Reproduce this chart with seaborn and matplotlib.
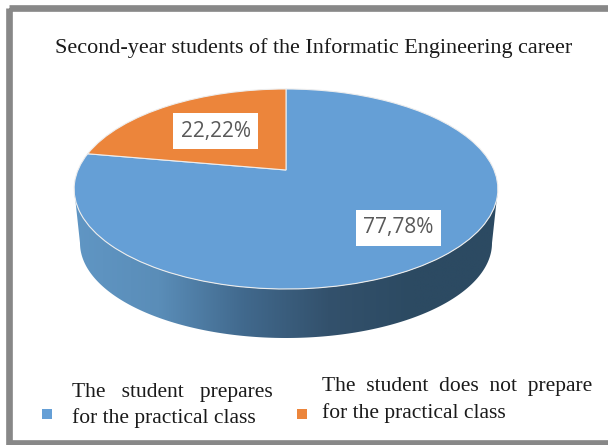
import numpy as np
import seaborn as sns
import matplotlib
matplotlib.use('Agg')
import matplotlib.pyplot as plt
from matplotlib.colors import LinearSegmentedColormap
from matplotlib.patches import Polygon, Rectangle
from matplotlib.transforms import Transform

title = 'Second-year students of the Informatic Engineering career'
categories = ['The student prepares for the practical class',
              'The student does not prepare for the practical class']
shares = [77.78, 22.22]
pie_colors = ['#659FD6', '#EC853B']

sns.set_theme(style='white')
serif = 'Liberation Serif'
label_font = 'Open Sans'


# tilted view of the unit disc, gives pixel positions
class TiltView(Transform):
    input_dims = 2
    output_dims = 2

    def transform_non_affine(self, values):
        values = np.asarray(values, dtype=float)
        d = 1 + 0.19 * values[:, 1]
        return np.column_stack([286 + 208 * values[:, 0] / d,
                                170 - 96.4 * values[:, 1] / d])


fig = plt.figure(figsize=(6.08, 4.45), dpi=100)
ax = fig.add_axes([0, 0, 1, 1])

tilt = TiltView()
wedges, _, autotexts = ax.pie(shares, colors=sns.color_palette(pie_colors),
                              startangle=90, counterclock=False, frame=True,
                              autopct=lambda p: f'{p:.2f}'.replace('.', ',') + '%',
                              wedgeprops={'edgecolor': '#EDEDED', 'linewidth': 0.8})
ax.set_aspect('auto')
ax.axis('off')
for w in wedges:
    w.set_transform(tilt + ax.transData)
    w.set_zorder(3)

# side wall of the pie
t = np.linspace(np.pi + 0.19, 2 * np.pi - 0.19, 200)
rim = tilt.transform_non_affine(np.column_stack([np.cos(t), np.sin(t)]))
s = np.linspace(0, np.pi, 200)
lower = np.column_stack([286 + 206 * np.cos(s), 243 + 95 * np.sin(s)])
wall = Polygon(np.vstack([rim, lower]), closed=True, transform=ax.transData,
               facecolor='none', edgecolor='none')
ax.add_patch(wall)
wall_cmap = LinearSegmentedColormap.from_list(
    'wall', ['#6096C4', '#5A8DB8', '#41698D', '#33516C', '#2C4A62', '#2C4A62'])
grad = ax.imshow(np.linspace(0, 1, 256)[None, :], cmap=wall_cmap, aspect='auto',
                 extent=(74, 498, 340, 180), interpolation='bilinear', zorder=2)
grad.set_clip_path(wall)
ax.set_xlim(0, 608)
ax.set_ylim(445, 0)

# data labels in white boxes
for txt, pos in zip(autotexts, [(398.5, 228), (215.5, 131)]):
    txt.set_position(pos)
    txt.set(family=label_font, fontsize=15, color='#595959', ha='center', va='center',
            zorder=5)
    txt.set_bbox({'facecolor': 'white', 'edgecolor': 'none', 'pad': 5.5})

# outer frame, runs off on the right
ax.add_patch(Rectangle((9.3, 7.5), 620, 435.5, fill=False, edgecolor='#888888',
                       linewidth=4.8, zorder=6))

ax.text(314, 48, title, family=serif, fontsize=15.9, color='#1A1A1A',
        ha='center', va='center')

# legend keys and wrapped legend text
ax.scatter([47, 302], [414, 414], marker='s', s=42, c=pie_colors, linewidths=0, zorder=4)
ax.text(72, 393, 'The   student   prepares', family=serif, fontsize=15.5,
        color='#1A1A1A', va='center')
ax.text(72, 418, 'for the practical class', family=serif, fontsize=15.5,
        color='#1A1A1A', va='center')
ax.text(322, 386, 'The  student  does  not  prepare', family=serif, fontsize=15.5,
        color='#1A1A1A', va='center')
ax.text(322, 413, 'for the practical class', family=serif, fontsize=15.5,
        color='#1A1A1A', va='center')

fig.savefig('out.png', dpi=100)
